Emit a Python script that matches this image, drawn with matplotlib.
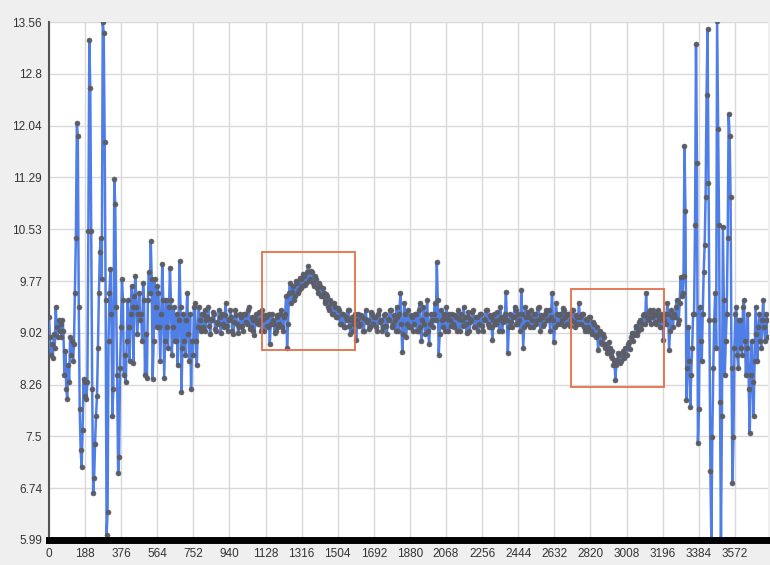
import matplotlib
matplotlib.use("Agg")
import matplotlib.pyplot as plt
import matplotlib.patches as mpatches
import numpy as np

# ---- data (sampled every 5 units of x, 20 values per 100 units) ----
x_step = 5
values = [
    # 0
    9.25, 8.95, 8.70, 8.85, 8.65, 9.00, 8.80, 9.40, 9.10, 8.95, 9.20, 9.05, 9.15, 8.95, 9.20, 9.05, 8.40, 8.75, 8.20, 8.05,
    # 100
    8.55, 8.30, 8.95, 8.70, 8.90, 8.60, 8.85, 9.60, 10.40, 12.08, 11.90, 9.40, 7.90, 7.30, 7.05, 7.60, 8.35, 8.10, 8.30, 8.05,
    # 200
    8.30, 10.50, 13.29, 12.60, 10.50, 8.20, 6.68, 6.90, 7.40, 7.80, 8.10, 8.80, 9.60, 10.20, 10.40, 9.80, 13.56, 13.40, 11.80, 9.50,
    # 300
    6.06, 6.40, 8.90, 9.60, 9.95, 9.30, 7.80, 8.20, 11.26, 10.90, 9.40, 8.40, 6.97, 7.20, 8.50, 9.10, 9.80, 9.50, 8.40, 8.70,
    # 400
    8.30, 8.90, 9.50, 9.10, 8.60, 9.30, 9.70, 9.40, 8.58, 9.55, 9.85, 9.40, 9.00, 9.30, 9.60, 9.20, 9.30, 8.90, 9.75, 9.50,
    # 500
    8.40, 9.00, 8.36, 9.50, 9.90, 9.60, 10.36, 9.80, 8.35, 8.90, 9.80, 9.40, 9.10, 9.70, 9.60, 9.10, 8.60, 9.30, 10.02, 9.50,
    # 600
    8.36, 8.90, 9.50, 9.10, 8.80, 9.40, 9.96, 9.50, 8.70, 9.10, 9.40, 8.90, 8.90, 9.30, 8.55, 9.20, 10.07, 9.40, 8.16, 8.80,
    # 700
    9.30, 8.90, 8.70, 9.20, 9.60, 9.00, 8.60, 9.30, 8.20, 8.90, 8.70, 9.40, 9.45, 8.90, 8.55, 9.10, 9.40, 9.20, 9.05, 9.30,
    # 800
    9.10, 9.28, 9.35, 9.05, 9.20, 9.25, 9.40, 9.12, 9.00, 9.22, 9.20, 9.32, 9.30, 9.08, 9.05, 9.18, 9.15, 9.35, 9.25, 9.02,
    # 900
    9.30, 9.15, 9.10, 9.28, 9.45, 9.12, 9.05, 9.22, 9.20, 9.35, 9.25, 9.05, 9.00, 9.18, 9.35, 9.28, 9.15, 9.02, 9.10, 9.30,
    # 1000
    9.25, 9.12, 9.05, 9.30, 9.30, 9.18, 9.15, 9.35, 9.40, 9.08, 9.10, 9.25, 9.20, 9.05, 8.98, 9.22, 9.30, 9.18, 9.15, 9.32,
    # 1100
    9.20, 9.05, 9.35, 9.22, 9.05, 9.28, 9.25, 9.12, 9.10, 9.30, 8.85, 9.15, 9.30, 9.20, 9.15, 9.02, 9.05, 9.28, 9.25, 9.10,
    # 1200
    9.15, 9.30, 9.35, 9.10, 9.05, 9.25, 9.30, 9.55, 8.80, 9.15, 9.60, 9.75, 9.45, 9.62, 9.70, 9.50, 9.55, 9.78, 9.75, 9.60,
    # 1300
    9.65, 9.82, 9.80, 9.68, 9.70, 9.88, 9.85, 9.72, 9.75, 9.90, 10.00, 9.78, 9.80, 9.92, 9.90, 9.75, 9.70, 9.85, 9.80, 9.68,
    # 1400
    9.60, 9.75, 9.70, 9.55, 9.55, 9.68, 9.60, 9.48, 9.45, 9.58, 9.55, 9.40, 9.35, 9.50, 9.45, 9.30, 9.30, 9.45, 9.40, 9.25,
    # 1500
    9.25, 9.38, 9.35, 9.15, 9.15, 9.30, 9.30, 9.10, 9.10, 9.25, 9.20, 9.35, 9.35, 9.12, 9.00, 9.20, 9.25, 9.05, 9.15, 9.30,
    # 1600
    8.92, 9.20, 9.30, 9.12, 9.15, 9.28, 9.25, 9.05, 9.05, 9.22, 9.35, 9.18, 9.20, 9.08, 9.10, 9.32, 9.30, 9.15, 9.15, 9.25,
    # 1700
    9.25, 9.10, 9.05, 9.30, 9.35, 9.18, 9.20, 9.05, 9.10, 9.28, 9.30, 9.12, 9.00, 9.22, 9.20, 9.35, 9.35, 9.10, 9.15, 9.28,
    # 1800
    9.20, 9.05, 9.40, 9.25, 9.05, 9.30, 9.60, 9.15, 8.74, 9.00, 9.45, 9.30, 8.95, 9.15, 9.35, 9.10, 9.10, 9.28, 9.25, 9.05,
    # 1900
    9.15, 9.30, 9.30, 9.05, 9.05, 9.35, 9.45, 9.10, 8.90, 9.20, 9.40, 9.15, 9.00, 9.30, 9.50, 9.05, 8.85, 9.15, 9.30, 9.20,
    # 2000
    9.10, 9.30, 9.45, 9.20, 10.05, 9.50, 8.70, 9.00, 9.35, 9.20, 9.10, 9.30, 9.25, 9.05, 9.40, 9.22, 9.05, 9.30, 9.20, 9.12,
    # 2100
    9.30, 9.15, 9.10, 9.28, 9.25, 9.05, 9.35, 9.22, 9.05, 9.30, 9.20, 9.12, 9.40, 9.25, 9.15, 9.02, 9.25, 9.32, 9.05, 9.18,
    # 2200
    9.20, 9.32, 9.35, 9.10, 9.10, 9.25, 9.25, 9.05, 9.15, 9.30, 9.30, 9.12, 9.05, 9.22, 9.20, 9.35, 9.35, 9.15, 9.10, 9.28,
    # 2300
    9.25, 9.10, 8.92, 9.20, 9.30, 9.15, 9.15, 9.32, 9.20, 9.05, 9.40, 9.25, 9.05, 9.18, 9.25, 9.30, 9.62, 9.20, 8.73, 9.10,
    # 2400
    9.30, 9.18, 9.10, 9.25, 9.25, 9.40, 9.35, 9.15, 9.15, 9.30, 9.20, 9.05, 9.65, 9.30, 8.80, 9.10, 9.40, 9.25, 9.15, 9.32,
    # 2500
    9.25, 9.10, 9.35, 9.20, 9.10, 9.30, 9.30, 9.15, 9.20, 9.38, 9.40, 9.22, 9.05, 9.28, 9.25, 9.12, 9.15, 9.30, 9.35, 9.20,
    # 2600
    9.20, 9.35, 9.05, 9.25, 9.60, 9.20, 8.89, 9.10, 9.45, 9.30, 9.15, 9.28, 9.30, 9.15, 9.20, 9.38, 9.35, 9.12, 9.25, 9.30,
    # 2700
    9.15, 9.30, 9.30, 9.12, 9.20, 9.35, 9.35, 9.18, 9.10, 9.28, 9.25, 9.15, 9.46, 9.25, 9.15, 9.30, 9.30, 9.10, 9.05, 9.22,
    # 2800
    9.20, 9.05, 9.10, 9.25, 9.25, 9.05, 9.00, 9.18, 9.15, 8.98, 8.96, 9.10, 8.77, 9.00, 9.05, 8.88, 8.85, 9.00, 8.95, 8.80,
    # 2900
    8.85, 8.72, 8.75, 8.88, 8.80, 8.68, 8.65, 8.75, 8.55, 8.62, 8.33, 8.55, 8.62, 8.72, 8.70, 8.58, 8.60, 8.72, 8.75, 8.65,
    # 3000
    8.80, 8.70, 8.70, 8.85, 8.88, 8.78, 8.95, 9.02, 8.90, 8.98, 9.00, 9.12, 9.10, 8.98, 9.05, 9.18, 9.20, 9.08, 9.15, 9.28,
    # 3100
    9.30, 9.15, 9.60, 9.25, 9.20, 9.32, 9.35, 9.15, 9.25, 9.35, 9.30, 9.18, 9.15, 9.28, 9.35, 9.20, 9.25, 9.10, 9.30, 9.25,
    # 3200
    8.92, 9.20, 9.30, 9.15, 9.45, 9.30, 8.77, 9.05, 9.35, 9.25, 9.10, 9.30, 9.25, 9.40, 9.50, 9.15, 9.20, 9.45, 9.84, 9.55,
    # 3300
    9.60, 9.85, 11.75, 10.80, 8.04, 8.50, 9.10, 8.60, 7.94, 8.40, 8.80, 9.30, 9.30, 10.60, 13.24, 11.50, 7.41, 7.90, 9.40, 8.90,
    # 3400
    8.60, 9.30, 9.90, 10.30, 11.00, 12.50, 13.46, 11.20, 9.20, 7.00, 5.99, 7.50, 8.50, 9.20, 9.60, 8.80, 13.58, 12.00, 10.60, 8.00,
    # 3500
    5.99, 7.80, 10.56, 9.50, 8.40, 8.90, 9.30, 10.40, 12.21, 11.90, 11.00, 8.50, 6.83, 7.50, 8.80, 9.30, 9.40, 8.70, 8.50, 9.20,
    # 3600
    9.20, 8.80, 8.70, 9.40, 9.50, 8.90, 8.40, 8.80, 9.30, 8.20, 7.55, 8.40, 8.90, 8.30, 7.80, 8.60, 9.40, 9.00, 8.60, 9.10,
    # 3700
    9.30, 8.90, 8.80, 9.20, 9.50, 9.10, 8.90, 9.30, 9.20, 8.95,
]

x_ticks = [0, 188, 376, 564, 752, 940, 1128, 1316, 1504, 1692, 1880,
           2068, 2256, 2444, 2632, 2820, 3008, 3196, 3384, 3572]
y_ticks = [5.99, 6.747, 7.504, 8.261, 9.018, 9.775, 10.532, 11.289, 12.046, 12.803, 13.56]
y_tick_labels = ["5.99", "6.74", "7.5", "8.26", "9.02", "9.77", "10.53",
                 "11.29", "12.04", "12.8", "13.56"]

# highlight boxes: (x0, y0, width, height) in data units
box_x = [1109, 2717]
box_y = [8.772, 8.22]
box_w = [487, 487]
box_h = [1.425, 1.441]

x_min, x_max = 0, 3745
y_min, y_max = 5.99, 13.56

# ---- figure ----
plt.rcParams['font.family'] = ['Liberation Sans', 'DejaVu Sans']
fig = plt.figure(figsize=(7.7, 5.65), dpi=100, facecolor='#efefef')
ax = fig.add_axes([49 / 770, 25 / 565, (768 - 49) / 770, (543 - 25) / 565])
ax.set_facecolor('white')

xs = np.arange(len(values)) * x_step
ax.plot(xs, values, color='#4f7fe6', lw=1.8, zorder=3,
        marker='o', markersize=3.6, markerfacecolor='#5c5d66',
        markeredgecolor='#5c5d66', markeredgewidth=0.4)

for bx, by, bw, bh in zip(box_x, box_y, box_w, box_h):
    ax.add_patch(mpatches.Rectangle((bx, by), bw, bh, fill=False,
                                    edgecolor='#e2714a', lw=1.3, zorder=4))

ax.set_xlim(x_min, x_max)
ax.set_ylim(y_min, y_max)
ax.set_xticks(x_ticks)
ax.set_xticklabels([str(t) for t in x_ticks])
ax.set_yticks(y_ticks)
ax.set_yticklabels(y_tick_labels)
ax.grid(True, color='#d9d9d9', lw=1.0, zorder=0)
ax.set_axisbelow(True)
ax.tick_params(axis='both', length=0, labelsize=8.5, colors='#333333')
ax.tick_params(axis='x', pad=6)
ax.tick_params(axis='y', pad=5)

for s in ['top', 'right']:
    ax.spines[s].set_visible(False)
ax.spines['left'].set_color('#555555')
ax.spines['left'].set_linewidth(1.5)
ax.spines['bottom'].set_color('black')
ax.spines['bottom'].set_linewidth(5)
ax.spines['bottom'].set_zorder(5)

fig.savefig('out.png', dpi=100, facecolor=fig.get_facecolor())
